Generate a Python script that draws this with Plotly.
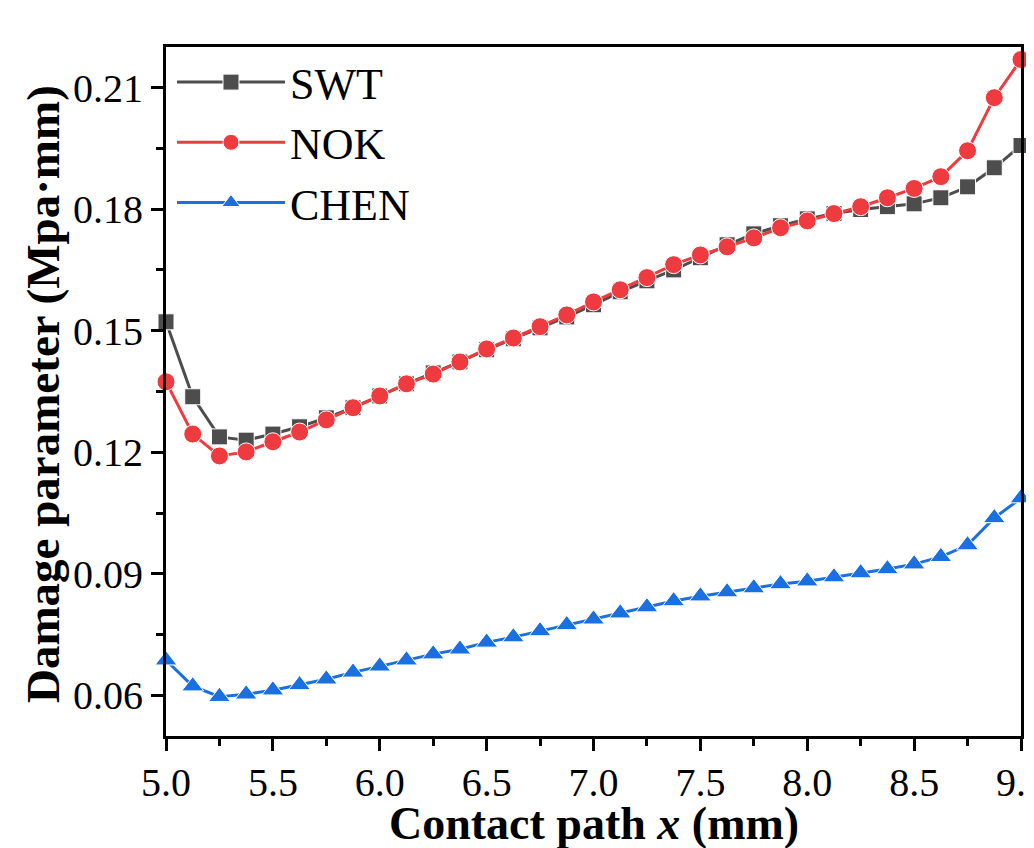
import plotly.graph_objects as go

x_mm = [5.0, 5.125, 5.25, 5.375, 5.5, 5.625, 5.75, 5.875, 6.0, 6.125, 6.25, 6.375, 6.5,
        6.625, 6.75, 6.875, 7.0, 7.125, 7.25, 7.375, 7.5, 7.625, 7.75, 7.875, 8.0,
        8.125, 8.25, 8.375, 8.5, 8.625, 8.75, 8.875, 9.0]

swt = [0.1522, 0.1337, 0.1238, 0.1230, 0.1245, 0.1263, 0.1285, 0.1310, 0.1339, 0.1369,
       0.1396, 0.1423, 0.1453, 0.1480, 0.1507, 0.1534, 0.1564, 0.1596, 0.1623, 0.1650,
       0.1680, 0.1712, 0.1739, 0.1759, 0.1776, 0.1789, 0.1799, 0.1806, 0.1813, 0.1828,
       0.1855, 0.1902, 0.1957]

nok = [0.1374, 0.1245, 0.1191, 0.1201, 0.1226, 0.1250, 0.1280, 0.1310, 0.1339, 0.1369,
       0.1393, 0.1423, 0.1455, 0.1482, 0.1510, 0.1539, 0.1571, 0.1601, 0.1631, 0.1663,
       0.1687, 0.1707, 0.1729, 0.1754, 0.1771, 0.1789, 0.1806, 0.1828, 0.1851, 0.1880,
       0.1944, 0.2075, 0.2169]

chen = [0.0687, 0.0623, 0.0597, 0.0603, 0.0613, 0.0626, 0.0640, 0.0657, 0.0672, 0.0687,
        0.0702, 0.0714, 0.0731, 0.0744, 0.0759, 0.0774, 0.0788, 0.0803, 0.0818, 0.0833,
        0.0845, 0.0855, 0.0865, 0.0875, 0.0882, 0.0892, 0.0902, 0.0912, 0.0924, 0.0942,
        0.0971, 0.1038, 0.1087]

series_names = ["SWT", "NOK", "CHEN"]
x_ticks = [5.0, 5.5, 6.0, 6.5, 7.0, 7.5, 8.0, 8.5, 9.0]
y_ticks = [0.06, 0.09, 0.12, 0.15, 0.18, 0.21]
x_title = "<b>Contact path <i>x</i> (mm)</b>"
y_title = "<b>Damage parameter (Mpa·mm)</b>"

FONT = "Liberation Serif, Times New Roman, serif"

fig = go.Figure()
styles = [
    (swt, "#4d4d4d", "square", 16),
    (nok, "#ef3b3f", "circle", 18),
    (chen, "#1a70e0", "triangle-up", 19),
]
for name, (vals, col, sym, sz) in zip(series_names, styles):
    fig.add_trace(go.Scatter(
        x=x_mm, y=vals, name=name, mode="lines+markers",
        line=dict(color=col, width=3),
        marker=dict(symbol=sym, size=sz, color=col, line=dict(color="white", width=1)),
        cliponaxis=False,
    ))

fig.update_layout(
    width=1026, height=840,
    margin=dict(l=158, r=13, t=39, b=112),
    paper_bgcolor="white", plot_bgcolor="white",
    font=dict(family=FONT, color="black"),
    showlegend=True,
    legend=dict(
        x=0.007, y=1.0, xanchor="left", yanchor="top",
        font=dict(family=FONT, size=44, color="black"),
        bgcolor="rgba(0,0,0,0)", itemwidth=108, tracegroupgap=0,
    ),
    xaxis=dict(
        range=[5.0, 9.0], tickvals=x_ticks, ticktext=[f"{v:.1f}" for v in x_ticks],
        ticks="outside", ticklen=12, tickwidth=3, tickcolor="black",
        showline=True, linewidth=3, linecolor="black", mirror=True,
        showgrid=False, zeroline=False, automargin=False, ticklabeloverflow="allow",
        ticklabelstandoff=-3,
        tickfont=dict(family=FONT, size=40, color="black"),
        minor=dict(dtick=0.25, tick0=5.0, ticks="outside", ticklen=7, tickwidth=3, tickcolor="black", showgrid=False),
    ),
    yaxis=dict(
        range=[0.05, 0.22], tickvals=y_ticks, ticktext=[f"{v:.2f}" for v in y_ticks],
        ticks="outside", ticklen=12, tickwidth=3, tickcolor="black",
        showline=True, linewidth=3, linecolor="black", mirror=True,
        showgrid=False, zeroline=False, automargin=False, ticklabeloverflow="allow",
        tickfont=dict(family=FONT, size=40, color="black"),
        minor=dict(dtick=0.015, tick0=0.06, ticks="outside", ticklen=7, tickwidth=3, tickcolor="black", showgrid=False),
    ),
    annotations=[
        dict(text=x_title, xref="paper", yref="paper", x=0.5, y=-0.127,
             xanchor="center", yanchor="middle", showarrow=False,
             font=dict(family=FONT, size=46, color="black")),
        dict(text=y_title, xref="paper", yref="paper", x=-0.143, y=0.496,
             xanchor="center", yanchor="middle", textangle=-90, showarrow=False,
             font=dict(family=FONT, size=47, color="black")),
    ],
)

fig.write_html("out.html")
